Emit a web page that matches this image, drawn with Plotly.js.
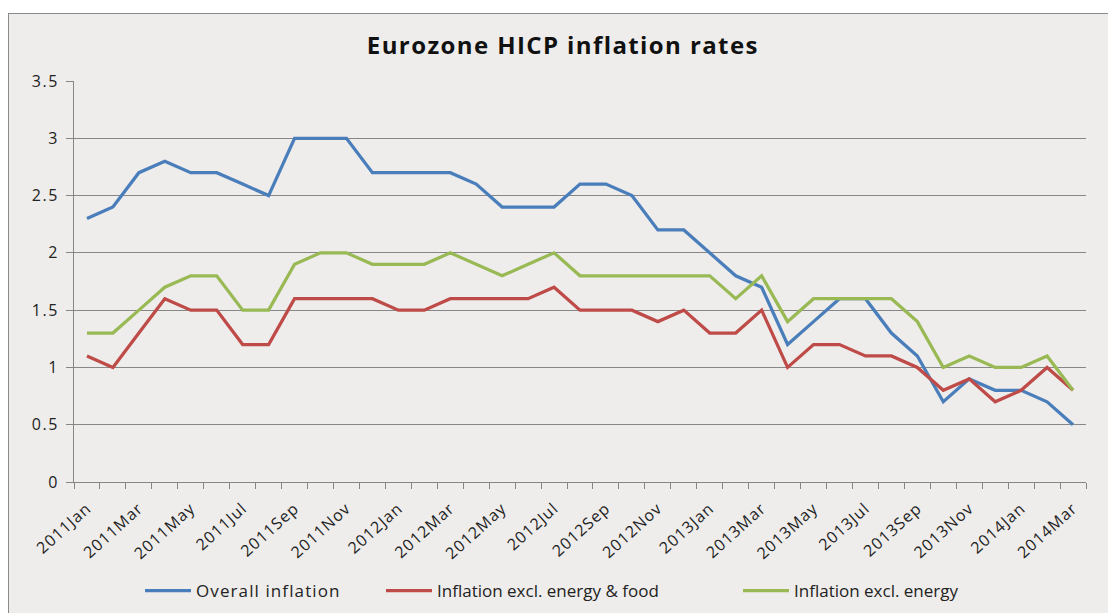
<!DOCTYPE html>
<html><head><meta charset="utf-8">
<script src="https://cdn.plot.ly/plotly-3.0.1.min.js"></script>
<style>
html,body{margin:0;padding:0;background:#fff;overflow:hidden;}
#bg{position:absolute;left:8px;top:13px;width:1100px;height:600px;background:#eeedeb;border-left:1px solid #8a8a8a;border-top:1px solid #8a8a8a;}
#chart{position:absolute;left:0;top:0;width:1108px;height:613px;}
.x2tick text{letter-spacing:1px;}
.ytick text{letter-spacing:1.5px;}
.legendtext{letter-spacing:1.1px;}
.gtitle{letter-spacing:1.4px;}
</style></head><body>
<div id="bg"></div><div id="chart"></div>
<script>
const months = [
  "2011Jan","2011Feb","2011Mar","2011Apr","2011May","2011Jun","2011Jul","2011Aug","2011Sep","2011Oct","2011Nov","2011Dec",
  "2012Jan","2012Feb","2012Mar","2012Apr","2012May","2012Jun","2012Jul","2012Aug","2012Sep","2012Oct","2012Nov","2012Dec",
  "2013Jan","2013Feb","2013Mar","2013Apr","2013May","2013Jun","2013Jul","2013Aug","2013Sep","2013Oct","2013Nov","2013Dec",
  "2014Jan","2014Feb","2014Mar"
];
const overallInflation = [
  2.3,2.4,2.7,2.8,2.7,2.7,2.6,2.5,3.0,3.0,3.0,2.7,
  2.7,2.7,2.7,2.6,2.4,2.4,2.4,2.6,2.6,2.5,2.2,2.2,
  2.0,1.8,1.7,1.2,1.4,1.6,1.6,1.3,1.1,0.7,0.9,0.8,
  0.8,0.7,0.5
];
const exclEnergyFood = [
  1.1,1.0,1.3,1.6,1.5,1.5,1.2,1.2,1.6,1.6,1.6,1.6,
  1.5,1.5,1.6,1.6,1.6,1.6,1.7,1.5,1.5,1.5,1.4,1.5,
  1.3,1.3,1.5,1.0,1.2,1.2,1.1,1.1,1.0,0.8,0.9,0.7,
  0.8,1.0,0.8
];
const exclEnergy = [
  1.3,1.3,1.5,1.7,1.8,1.8,1.5,1.5,1.9,2.0,2.0,1.9,
  1.9,1.9,2.0,1.9,1.8,1.9,2.0,1.8,1.8,1.8,1.8,1.8,
  1.8,1.6,1.8,1.4,1.6,1.6,1.6,1.6,1.4,1.0,1.1,1.0,
  1.0,1.1,0.8
];
const seriesNames = ["Overall inflation","Inflation excl. energy & food","Inflation excl. energy"];
const seriesColors = ["#4A7EBB","#BE4B48","#98B954"];
const legendIds = ["legend","legend2","legend3"];

const xIdx = months.map((m,i)=>i);
const labelIdx = xIdx.filter(i=>i%2===0);
const labelText = labelIdx.map(i=>months[i]);
const boundaries = months.map((m,i)=>i-0.5).concat([months.length-0.5]);

const font = "Open Sans, Noto Sans, sans-serif";
const data = [overallInflation, exclEnergyFood, exclEnergy].map((ys,k)=>({
  type:"scatter", mode:"lines", x:xIdx, y:ys, name:seriesNames[k], legend:legendIds[k],
  line:{color:seriesColors[k], width:3.25}, hovertext:months
}));
// invisible carrier trace so the label axis is drawn
data.push({type:"scatter", mode:"lines", x:xIdx, y:overallInflation, xaxis:"x2", yaxis:"y",
  showlegend:false, hoverinfo:"skip", opacity:0, line:{width:0}});

function legendAt(px){
  return {orientation:"h", xref:"container", x:px/1108, xanchor:"left",
          yref:"container", y:1-591/613, yanchor:"middle",
          font:{family:font, size:17, color:"#222"}, itemwidth:46, bgcolor:"rgba(0,0,0,0)"};
}
const axisRange = [-0.5, months.length-0.5];
const layout = {
  width:1108, height:613,
  paper_bgcolor:"rgba(0,0,0,0)", plot_bgcolor:"rgba(0,0,0,0)",
  margin:{l:74, r:22, t:81, b:131},
  title:{text:"<b>Eurozone HICP inflation rates</b>", xref:"container", x:0.508, xanchor:"center",
         yref:"container", y:1-46/613, yanchor:"middle",
         font:{family:font, size:24, color:"#111"}},
  showlegend:true,
  legend:legendAt(140),
  legend2:legendAt(381),
  legend3:legendAt(738),
  xaxis:{range:axisRange, showgrid:false, zeroline:false,
         showline:true, linecolor:"#868686", linewidth:1,
         tickmode:"array", tickvals:boundaries, ticktext:boundaries.map(()=>""),
         ticks:"outside", ticklen:6, tickwidth:1, tickcolor:"#868686"},
  xaxis2:{range:axisRange, overlaying:"x", anchor:"y", side:"bottom", matches:"x",
         showgrid:false, zeroline:false, showline:false,
         tickmode:"array", tickvals:labelIdx, ticktext:labelText, ticks:"",
         tickangle:-42, ticklabelstandoff:13,
         tickfont:{family:font, size:16, color:"#222"}},
  yaxis:{range:[0,3.5], tick0:0, dtick:0.5, showgrid:true, gridcolor:"#878787", gridwidth:1,
         zeroline:false, showline:true, linecolor:"#868686", linewidth:1,
         ticks:"outside", ticklen:7, tickcolor:"#868686", ticklabelstandoff:4,
         tickfont:{family:font, size:16, color:"#222"}}
};
Plotly.newPlot("chart", data, layout, {displayModeBar:false, staticPlot:true});
</script>
</body></html>
